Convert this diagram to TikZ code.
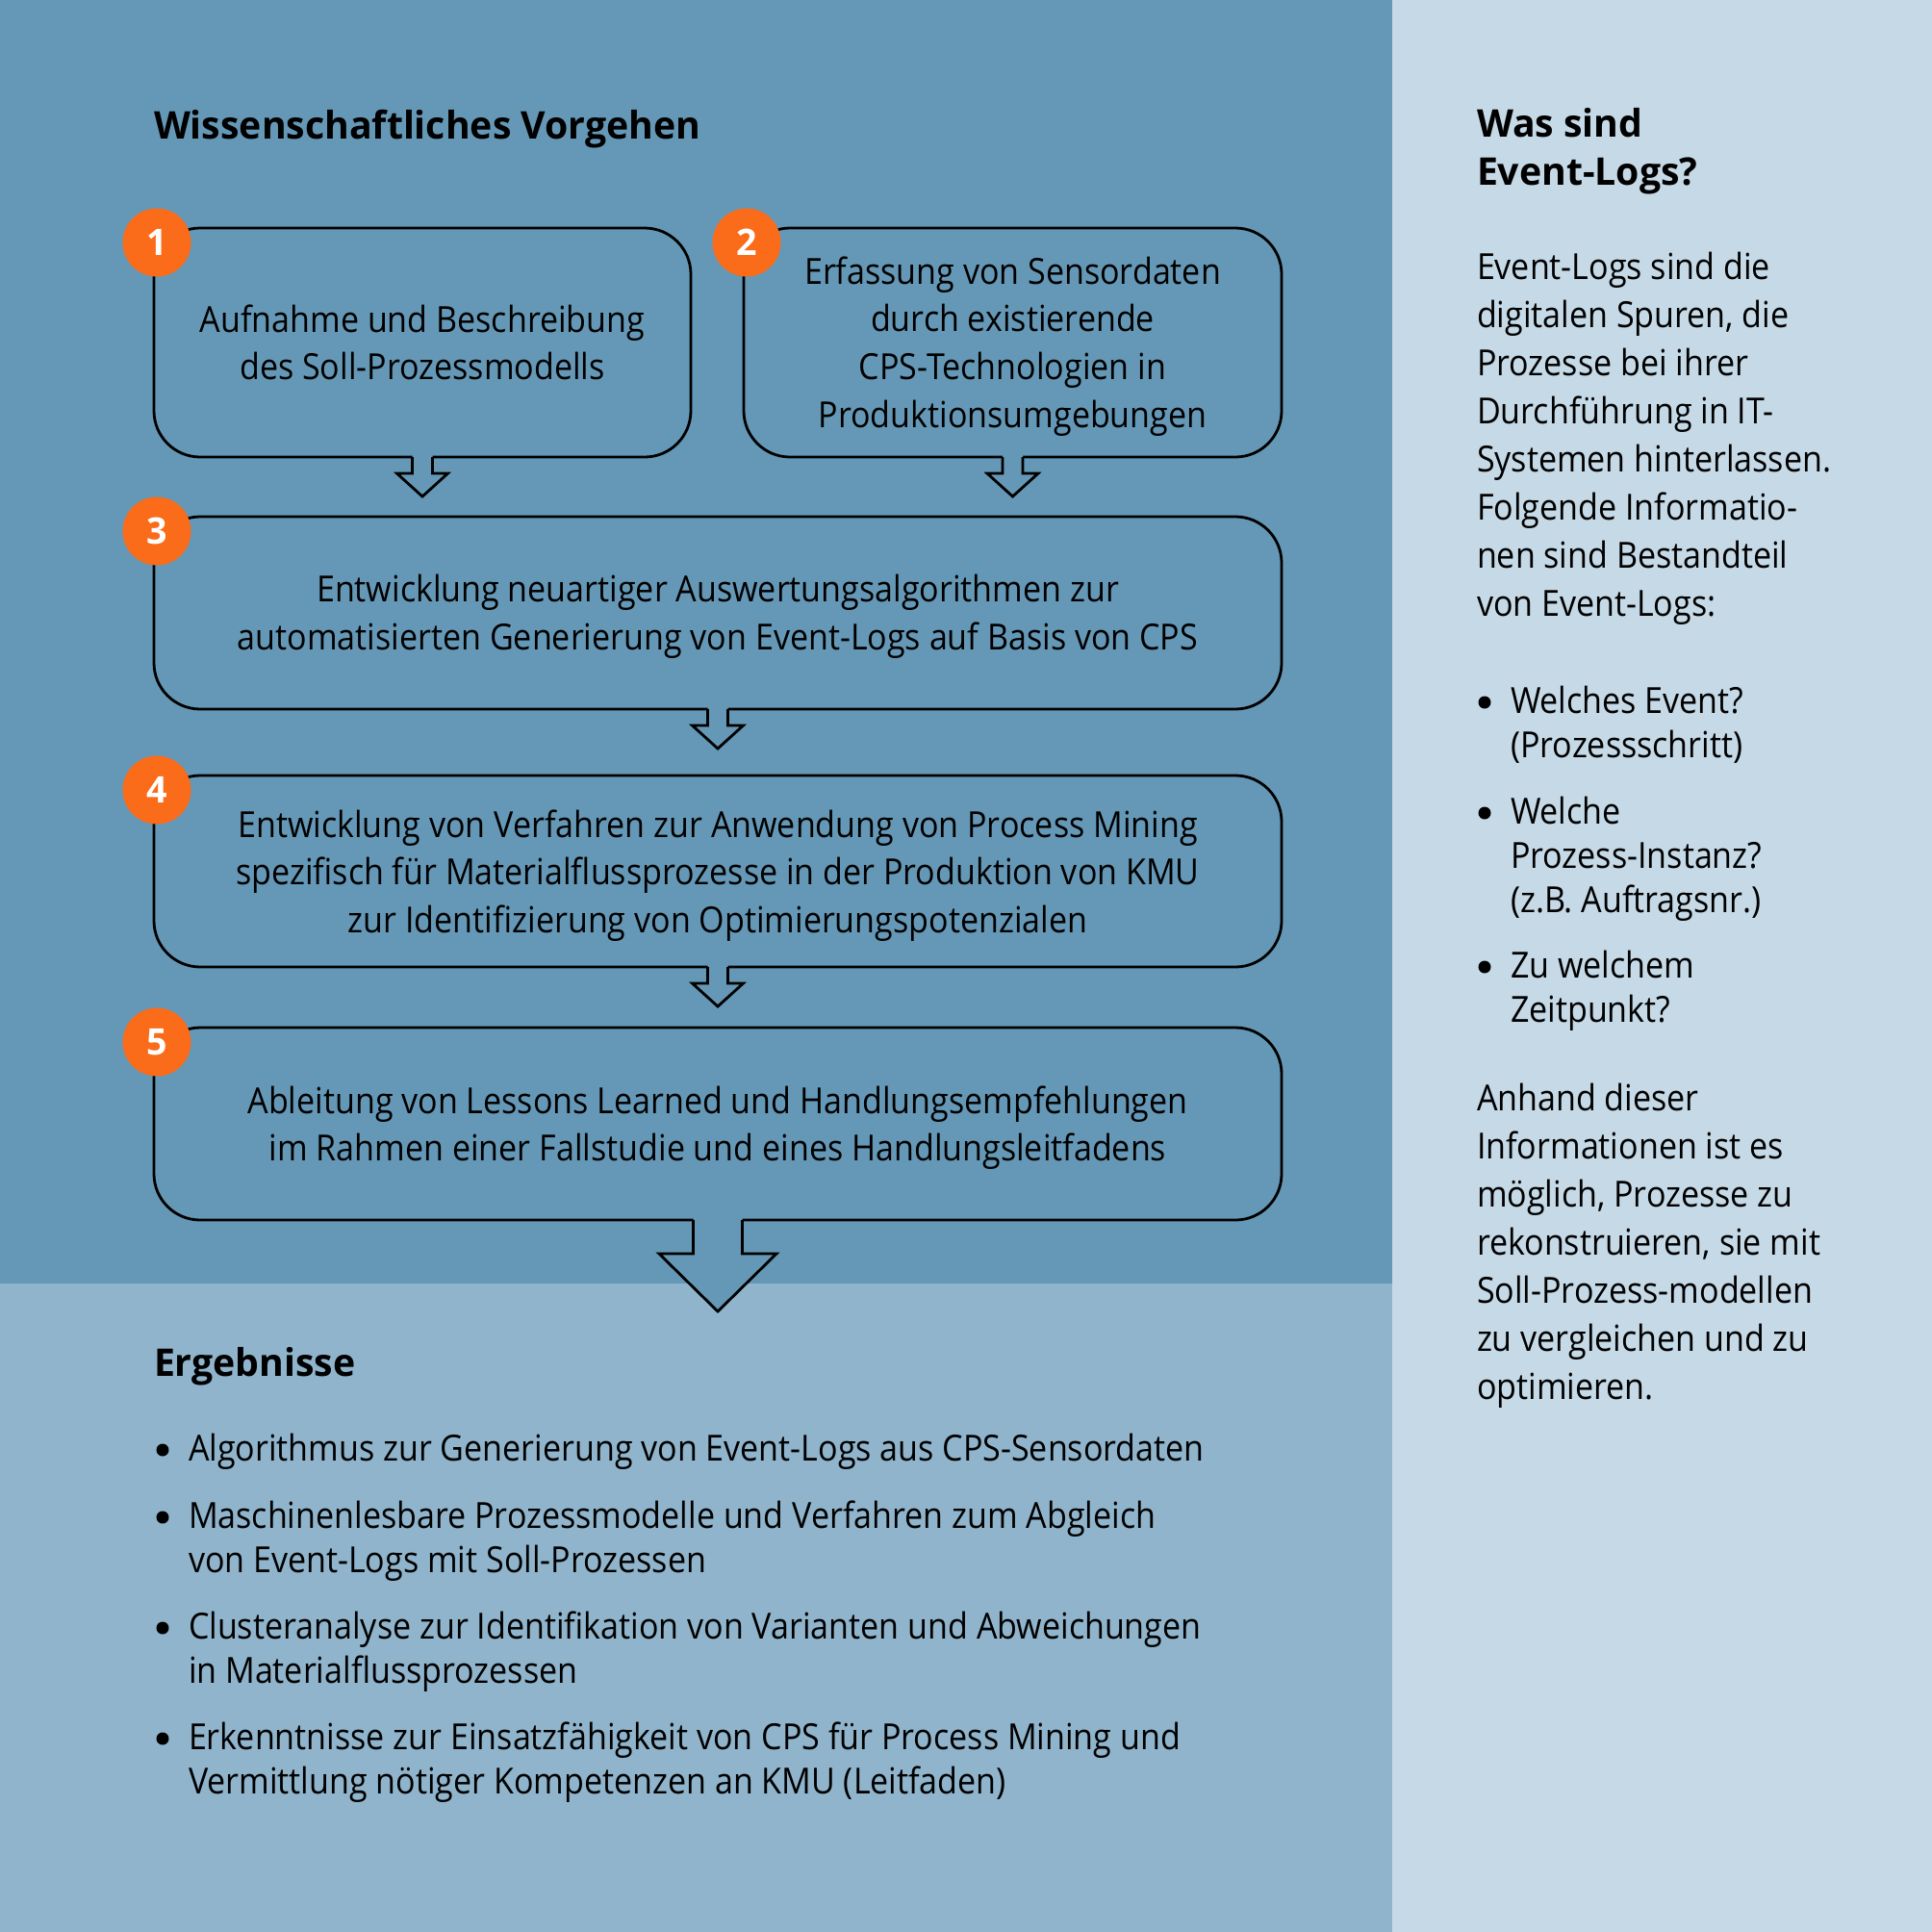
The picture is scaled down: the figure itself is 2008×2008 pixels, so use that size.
\documentclass[tikz,border=0pt]{standalone}
\usepackage{fontspec}
\setmainfont{Open Sans}[FakeStretch=0.91]
\newfontfamily\headf{Open Sans}[FakeStretch=0.99]
\usetikzlibrary{calc}
\definecolor{darkbg}{HTML}{6598B6}
\definecolor{midbg}{HTML}{8FB4CB}
\definecolor{rightbg}{HTML}{C5D9E6}
\definecolor{numorange}{HTML}{FA6B1A}
\newcommand\smallflow[1]{%
  \fill[darkbg] ($(#1.south)+(-10.5,-4)$) -- ($(#1.south)+(-10.5,17)$) -- ($(#1.south)+(-26.5,17)$) -- ($(#1.south)+(0,41)$) -- ($(#1.south)+(26.5,17)$) -- ($(#1.south)+(10.5,17)$) -- ($(#1.south)+(10.5,-4)$) -- cycle;
  \draw[flowline] ($(#1.south)+(-10.5,0)$) -- ($(#1.south)+(-10.5,17)$) -- ($(#1.south)+(-26.5,17)$) -- ($(#1.south)+(0,41)$) -- ($(#1.south)+(26.5,17)$) -- ($(#1.south)+(10.5,17)$) -- ($(#1.south)+(10.5,0)$);
}
\begin{document}
\begin{tikzpicture}[x=1pt,y=-1pt,
  stepbox/.style={draw=black, line width=2.8pt, rounded corners=48pt, inner sep=0pt, outer sep=0pt, fill=darkbg},
  flowline/.style={draw=black, line width=2.8pt, miter limit=10},
  numcirc/.style={circle, fill=numorange, minimum size=71pt, inner sep=0pt, text=white, font=\headf\bfseries\fontsize{38pt}{38pt}\selectfont},
  boxtext/.style={anchor=base, inner sep=0pt, outer sep=0pt, align=flush center, text width=1150pt, font=\fontsize{37.4pt}{49.7pt}\selectfont},
  headtext/.style={anchor=base west, inner sep=0pt, outer sep=0pt, align=flush left, text width=700pt, font=\headf\bfseries\fontsize{39.6pt}{50pt}\selectfont},
  paratext/.style={anchor=base west, inner sep=0pt, outer sep=0pt, align=flush left, text width=470pt, font=\fontsize{37.4pt}{50pt}\selectfont},
  itemtext/.style={anchor=base west, inner sep=0pt, outer sep=0pt, align=flush left, text width=1200pt, font=\fontsize{37.4pt}{46pt}\selectfont},
  ritemtext/.style={itemtext, text width=430pt},
  dotmark/.style={circle, fill=black, minimum size=13pt, inner sep=0pt}
]
\useasboundingbox (0,0) rectangle (2008,2008);
\fill[darkbg] (0,0) rectangle (1447,1334);
\fill[midbg] (0,1334) rectangle (1447,2008);
\fill[rightbg] (1447,0) rectangle (2008,2008);

% title
\node[headtext] (title) at (160,144) {Wissenschaftliches Vorgehen};

% boxes
\node[stepbox, minimum width=558pt, minimum height=238pt] (b1) at (439,356) {};
\node[stepbox, minimum width=559pt, minimum height=238pt] (b2) at (1052.5,356) {};
\node[stepbox, minimum width=1172pt, minimum height=200pt] (b3) at (746,637) {};
\node[stepbox, minimum width=1172pt, minimum height=199pt] (b4) at (746,905.5) {};
\node[stepbox, minimum width=1172pt, minimum height=200pt] (b5) at (746,1168) {};

% arrows
\smallflow{b1}
\smallflow{b2}
\smallflow{b3}
\smallflow{b4}
\fill[darkbg] ($(b5.south)+(-25.5,-4)$) -- ($(b5.south)+(-25.5,35)$) -- ($(b5.south)+(-61,35)$) -- ($(b5.south)+(0,95)$) -- ($(b5.south)+(61,35)$) -- ($(b5.south)+(25.5,35)$) -- ($(b5.south)+(25.5,-4)$) -- cycle;
\draw[flowline] ($(b5.south)+(-25.5,0)$) -- ($(b5.south)+(-25.5,35)$) -- ($(b5.south)+(-61,35)$) -- ($(b5.south)+(0,95)$) -- ($(b5.south)+(61,35)$) -- ($(b5.south)+(25.5,35)$) -- ($(b5.south)+(25.5,0)$);

% box texts
\node[boxtext] (t1) at (439,345) {Aufnahme und Beschreibung\\des Soll-Prozessmodells};
\node[boxtext] (t2) at (1052.5,295) {Erfassung von Sensordaten\\durch existierende\\CPS-Technologien in\\Produktionsumgebungen};
\node[boxtext] (t3) at (746,625.5) {Entwicklung neuartiger Auswertungsalgorithmen zur\\automatisierten Generierung von Event-Logs auf Basis von CPS};
\node[boxtext] (t4) at (746,870) {Entwicklung von Verfahren zur Anwendung von Process Mining\\spezifisch für Materialflussprozesse in der Produktion von KMU\\zur Identifizierung von Optimierungspotenzialen};
\node[boxtext] (t5) at (746,1157) {Ableitung von Lessons Learned und Handlungsempfehlungen\\im Rahmen einer Fallstudie und eines Handlungsleitfadens};

% number circles
\node[numcirc] (n1) at (163,252) {1};
\node[numcirc] (n2) at (776,252) {2};
\node[numcirc] (n3) at (163,552) {3};
\node[numcirc] (n4) at (163,821) {4};
\node[numcirc] (n5) at (163,1083) {5};

% Ergebnisse
\node[headtext] (erg) at (160,1430) {Ergebnisse};
\node[dotmark] (d1) at (169,1507) {};
\node[itemtext] (e1) at (196,1518) {Algorithmus zur Generierung von Event-Logs aus CPS-Sensordaten};
\node[dotmark] (d2) at (169,1577) {};
\node[itemtext] (e2) at (196,1588) {Maschinenlesbare Prozessmodelle und Verfahren zum Abgleich\\von Event-Logs mit Soll-Prozessen};
\node[dotmark] (d3) at (169,1692) {};
\node[itemtext] (e3) at (196,1703) {Clusteranalyse zur Identifikation von Varianten und Abweichungen\\in Materialflussprozessen};
\node[dotmark] (d4) at (169,1807) {};
\node[itemtext] (e4) at (196,1818) {Erkenntnisse zur Einsatzfähigkeit von CPS für Process Mining und\\Vermittlung nötiger Kompetenzen an KMU (Leitfaden)};

% right panel
\node[headtext, text width=450pt] (rt) at (1535,142) {Was sind\\Event-Logs?};
\node[paratext] (p1) at (1535,290) {Event-Logs sind die\\digitalen Spuren, die\\Prozesse bei ihrer\\Durchführung in IT-\\Systemen hinterlassen.\\Folgende Informatio-\\nen sind Bestandteil\\von Event-Logs:};
\node[dotmark] (r1) at (1543,730) {};
\node[ritemtext] (i1) at (1570,741) {Welches Event?\\(Prozessschritt)};
\node[dotmark] (r2) at (1543,845) {};
\node[ritemtext] (i2) at (1570,856) {Welche\\Prozess-Instanz?\\(z.B. Auftragsnr.)};
\node[dotmark] (r3) at (1543,1005) {};
\node[ritemtext] (i3) at (1570,1016) {Zu welchem\\Zeitpunkt?};
\node[paratext] (p2) at (1535,1154) {Anhand dieser\\Informationen ist es\\möglich, Prozesse zu\\rekonstruieren, sie mit\\Soll-Prozess-modellen\\zu vergleichen und zu\\optimieren.};
\end{tikzpicture}
\end{document}
